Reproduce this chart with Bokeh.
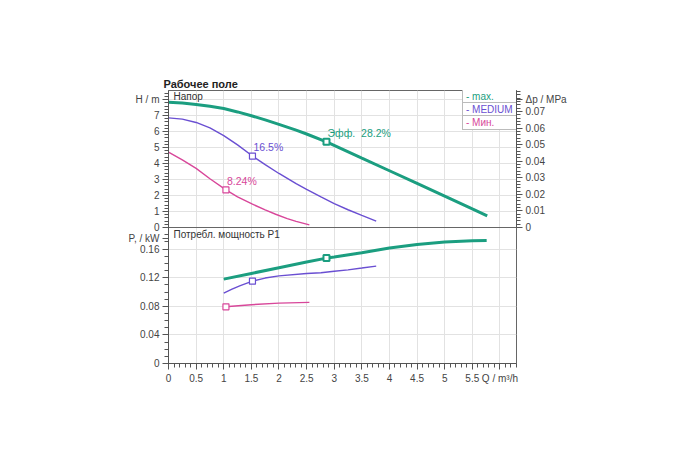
import numpy as np
from bokeh.plotting import figure
from bokeh.models import (Range1d, LinearAxis, FixedTicker, Label, Legend, LegendItem,
                          ColumnDataSource, Grid, Span)
from bokeh.core.properties import value
from bokeh.embed import file_html
from bokeh.resources import INLINE

# ---------------- data ----------------
# Head curves (Q in m3/h, H in m)
q_max_h = [0, 0.25, 0.5, 0.75, 1.0, 1.25, 1.5, 1.75, 2.0, 2.31, 2.5, 2.86, 3.5, 4.0, 4.5, 5.0, 5.5, 5.77]
h_max = [7.83, 7.79, 7.70, 7.58, 7.44, 7.23, 6.99, 6.73, 6.45, 6.09, 5.85, 5.36, 4.34, 3.55, 2.76, 1.96, 1.16, 0.73]

q_med_h = [0, 0.25, 0.5, 0.75, 1.0, 1.25, 1.52, 1.75, 2.0, 2.31, 2.5, 2.76, 3.0, 3.25, 3.5, 3.76]
h_med = [6.86, 6.78, 6.57, 6.23, 5.75, 5.17, 4.47, 3.93, 3.38, 2.74, 2.38, 1.91, 1.50, 1.11, 0.76, 0.40]

q_min_h = [0, 0.25, 0.5, 0.75, 1.04, 1.25, 1.52, 1.75, 1.94, 2.15, 2.31, 2.55]
h_min = [4.72, 4.23, 3.70, 3.05, 2.35, 1.92, 1.46, 1.10, 0.83, 0.56, 0.38, 0.16]

# Power curves (P1 in kW)
q_max_p = [1.0, 1.5, 2.0, 2.5, 2.86, 3.0, 3.5, 4.0, 4.5, 5.0, 5.5, 5.76]
p_max = [0.118, 0.126, 0.134, 0.142, 0.1474, 0.149, 0.155, 0.1615, 0.1665, 0.1700, 0.1718, 0.1722]

q_med_p = [1.0, 1.15, 1.3, 1.52, 1.75, 2.0, 2.5, 2.76, 3.0, 3.25, 3.5, 3.76]
p_med = [0.0985, 0.104, 0.109, 0.1152, 0.1195, 0.1225, 0.1258, 0.127, 0.129, 0.131, 0.1335, 0.1362]

q_min_p = [1.03, 1.5, 2.0, 2.55]
p_min = [0.0793, 0.0822, 0.0845, 0.0855]

# Operating points
q_op = [2.86, 1.52, 1.04]
h_op = [5.36, 4.47, 2.35]
p_op = [0.1474, 0.1152, 0.0793]
eff_labels = ["Эфф. \u00a028.2%", "16.5%", "8.24%"]

series_names = ["- max.", "- MEDIUM", "- Мин."]
colors = ["#1b9e80", "#6a4fd2", "#d8479a"]

# Tick labels
x_ticks = [0, 0.5, 1, 1.5, 2, 2.5, 3, 3.5, 4, 4.5, 5, 5.5, 6]
x_tick_labels = ["0", "0.5", "1", "1.5", "2", "2.5", "3", "3.5", "4", "4.5", "5", "5.5", "Q / m³/h"]
h_ticks = [0, 1, 2, 3, 4, 5, 6, 7, 8]
h_tick_labels = ["0", "1", "2", "3", "4", "5", "6", "7", "H / m"]
dp_ticks = [0, 0.01, 0.02, 0.03, 0.04, 0.05, 0.06, 0.07, 0.0775]
dp_tick_labels = ["0", "0.01", "0.02", "0.03", "0.04", "0.05", "0.06", "0.07", "Δp / MPa"]
p_ticks = [0, 0.04, 0.08, 0.12, 0.16, 0.175]
p_tick_labels = ["0", "0.04", "0.08", "0.12", "0.16", "P, / kW"]

FONT = "Liberation Sans"
AX = "#555555"
GRID = "#e2e2e2"
TXT = "#444444"

# ---------------- geometry (pixels) ----------------
X_MAX = 6.30
FW = 348
H_PX = 137          # height of the head panel
P_PX = 136          # height of the power panel
FH = H_PX + P_PX
H_TOP = 8.57
P_PER_PX = 0.1884 / 134.7
D_TOP = 0.0827

H_LO = -H_TOP * P_PX / H_PX            # head-range value at frame bottom
P_HI = FH * P_PER_PX                   # power-range value at frame top
D_LO = -D_TOP * P_PX / H_PX


def p_to_h(v):
    return H_LO + v / P_HI * (H_TOP - H_LO)


p = figure(frame_width=FW, frame_height=FH, output_backend="svg", toolbar_location=None,
           x_range=Range1d(0, X_MAX), y_range=Range1d(H_LO, H_TOP),
           min_border_left=168, min_border_right=80, min_border_top=90, min_border_bottom=40)
p.extra_y_ranges = {"p": Range1d(0, P_HI), "dp": Range1d(D_LO, D_TOP)}
p.outline_line_color = "#666666"
p.background_fill_color = "white"
p.border_fill_color = "white"

p.title.text = "Рабочее поле"
p.title.align = "left"
p.title.offset = -5
p.title.standoff = 2
p.title.text_font = FONT
p.title.text_font_size = "11px"
p.title.text_font_style = "bold"
p.title.text_color = "#222222"


def style_axis(ax):
    ax.axis_line_color = AX
    ax.major_tick_line_color = AX
    ax.minor_tick_line_color = AX
    ax.major_tick_out = 6
    ax.major_tick_in = 0
    ax.minor_tick_out = 4
    ax.minor_tick_in = 0
    ax.major_label_text_font = FONT
    ax.major_label_text_font_size = "10px"
    ax.major_label_text_color = TXT
    ax.major_label_standoff = 3


# grids
p.xgrid.ticker = FixedTicker(ticks=x_ticks)
p.xgrid.grid_line_color = GRID
p.ygrid.ticker = FixedTicker(ticks=h_ticks[1:])
p.ygrid.grid_line_color = GRID
p.add_layout(Grid(dimension=1, y_range_name="p", ticker=FixedTicker(ticks=p_ticks[1:-1]),
                  grid_line_color=GRID))
p.add_layout(Span(location=0, dimension="width", line_color="#666666", line_width=1))

# left axis: head ticks + power ticks (power mapped onto the shared left axis)
h_minor = list(np.round(np.arange(0, 8.6, 0.2), 3))
p_minor = [p_to_h(v) for v in np.round(np.arange(0, 0.181, 0.01), 3)]
p_major_pos = [p_to_h(v) for v in p_ticks]
lax = p.yaxis[0]
lax.ticker = FixedTicker(ticks=h_ticks + p_major_pos, minor_ticks=h_minor + p_minor)
overrides = {t: l for t, l in zip(h_ticks, h_tick_labels)}
overrides.update({t: l for t, l in zip(p_major_pos, p_tick_labels)})
lax.major_label_overrides = overrides
style_axis(lax)

# right axis: pressure, only along the head panel
rax = LinearAxis(y_range_name="dp", bounds=(0, D_TOP),
                 ticker=FixedTicker(ticks=dp_ticks,
                                    minor_ticks=list(np.round(np.arange(0, 0.0828, 0.002), 4))))
rax.major_label_overrides = {t: l for t, l in zip(dp_ticks, dp_tick_labels)}
style_axis(rax)
p.add_layout(rax, "right")

# bottom axis
bax = p.xaxis[0]
bax.ticker = FixedTicker(ticks=x_ticks, minor_ticks=list(np.round(np.arange(0, 6.31, 0.1), 2)))
bax.major_label_overrides = {t: l for t, l in zip(x_ticks, x_tick_labels)}
style_axis(bax)

# head curves
r1 = p.line(q_max_h, h_max, line_color=colors[0], line_width=3)
r2 = p.line(q_med_h, h_med, line_color=colors[1], line_width=1.4)
r3 = p.line(q_min_h, h_min, line_color=colors[2], line_width=1.4)

op_src = ColumnDataSource(dict(q=q_op, h=h_op, p=p_op, lab=eff_labels, c=colors,
                               lw=[2, 1.2, 1.2]))
p.scatter("q", "h", source=op_src, marker="square", size=6, fill_color="white",
          line_color="c", line_width="lw")
p.text("q", "h", text="lab", source=op_src, text_color="c", x_offset=1, y_offset=-3,
       text_baseline="bottom", text_align="left", text_font=value(FONT),
       text_font_size="10.5px")

# power curves
p.line(q_max_p, p_max, line_color=colors[0], line_width=3, y_range_name="p")
p.line(q_med_p, p_med, line_color=colors[1], line_width=1.4, y_range_name="p")
p.line(q_min_p, p_min, line_color=colors[2], line_width=1.4, y_range_name="p")
p.scatter("q", "p", source=op_src, marker="square", size=6, fill_color="white",
          line_color="c", line_width="lw", y_range_name="p")

# panel captions
p.add_layout(Label(x=5, y=FH - 6, x_units="screen", y_units="screen", text="Напор",
                   text_font=FONT, text_font_size="10px", text_color="#333333",
                   text_baseline="middle"))
p.add_layout(Label(x=5, y=P_PX - 7, x_units="screen", y_units="screen",
                   text="Потребл. мощность P1", text_font=FONT,
                   text_font_size="10px", text_color="#333333", text_baseline="middle"))

# legends: one bordered box per series
LH = 13
for i, (r, name, c) in enumerate(zip([r1, r2, r3], series_names, colors)):
    lg = Legend(items=[LegendItem(label=name, renderers=[r])],
                location=(FW - 54, FH - 1 - LH * (i + 1)),
                glyph_width=0, glyph_height=13, label_height=13, label_width=51,
                label_standoff=3, padding=0, margin=0, spacing=0,
                label_text_font=FONT, label_text_font_size="10px", label_text_color=c,
                border_line_color="#777777", border_line_width=1,
                background_fill_color="white", background_fill_alpha=1.0)
    p.add_layout(lg)

open("out.html", "w").write(file_html(p, INLINE))
